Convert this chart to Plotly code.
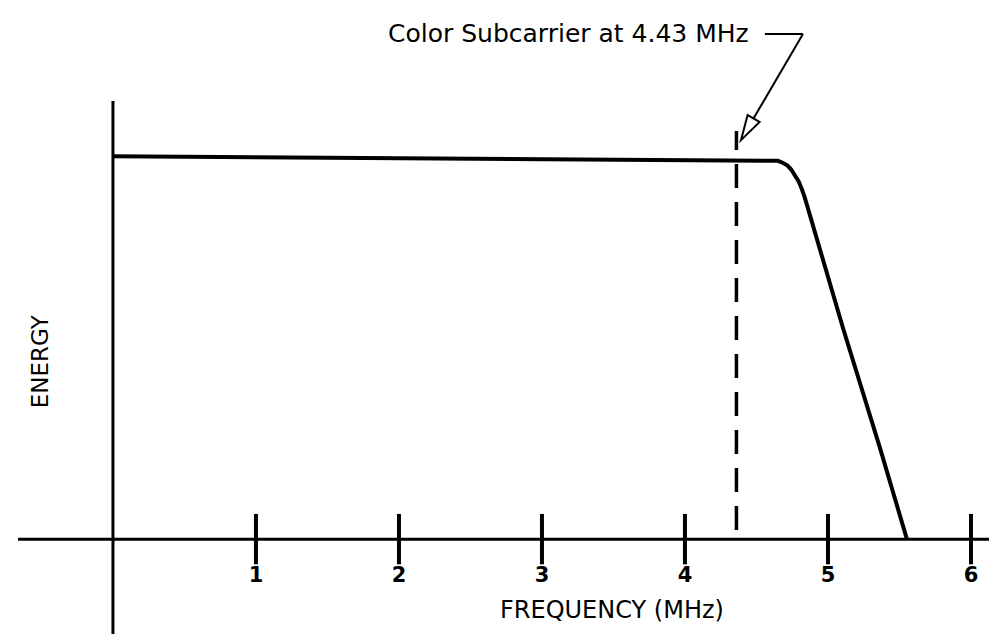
import plotly.graph_objects as go

# Data
freq_mhz = [0.0, 2.0, 4.36, 4.615, 4.650, 4.683, 4.715, 4.743, 4.770, 4.795, 4.818, 4.839,
            5.105, 5.364, 5.552]
energy = [1.005, 1.0, 0.995, 0.995, 0.993, 0.988, 0.981, 0.970, 0.956, 0.939, 0.918, 0.895,
          0.554, 0.239, 0.0]
tick_vals = [1, 2, 3, 4, 5, 6]
tick_text = ["1", "2", "3", "4", "5", "6"]
subcarrier_x = 4.36
subcarrier_label = "Color Subcarrier at 4.43 MHz"
x_title = "FREQUENCY (MHz)"
y_title = "ENERGY"

FONT = "DejaVu Sans"
INK = "black"

fig = go.Figure()

# spectrum curve
fig.add_trace(go.Scatter(x=freq_mhz, y=energy, mode="lines",
                         line=dict(color=INK, width=4), hoverinfo="skip",
                         showlegend=False))

# tick marks crossing the axis
fig.add_trace(go.Scatter(x=tick_vals, y=[0] * len(tick_vals), mode="markers",
                         marker=dict(symbol="line-ns", size=36,
                                     line=dict(color=INK, width=4)),
                         hoverinfo="skip", showlegend=False))

# tick labels
fig.add_trace(go.Scatter(x=tick_vals, y=[-0.100] * len(tick_vals), mode="text",
                         text=tick_text,
                         textfont=dict(family=FONT, size=21, color=INK, weight="bold"),
                         hoverinfo="skip", showlegend=False))

# axes lines
fig.add_shape(type="line", x0=-0.664, x1=6.30, y0=0, y1=0,
              line=dict(color=INK, width=3), layer="below")
fig.add_shape(type="line", x0=0, x1=0, y0=-0.249, y1=1.150,
              line=dict(color=INK, width=3), layer="below")

# dashed subcarrier marker
fig.add_shape(type="line", x0=subcarrier_x, x1=subcarrier_x, y0=0.024, y1=1.071,
              line=dict(color=INK, width=3.5, dash="24px,14px"))

# leader line of the callout
fig.add_shape(type="line", x0=4.559, x1=4.825, y0=1.3255, y1=1.3255,
              line=dict(color=INK, width=2))
fig.add_shape(type="line", x0=4.825, x1=4.479, y0=1.3255, y1=1.104,
              line=dict(color=INK, width=2))
# open arrowhead
fig.add_shape(type="path",
              path="M 4.392,1.0472 L 4.522,1.0948 L 4.438,1.1131 Z",
              line=dict(color=INK, width=2), fillcolor="white")

# callout text
fig.add_annotation(x=4.462, y=1.328, xref="x", yref="y", text=subcarrier_label,
                   showarrow=False, xanchor="right", yanchor="middle",
                   font=dict(family=FONT, size=25, color=INK))

# axis titles
fig.add_annotation(x=3.49, y=-0.187, xref="x", yref="y", text=x_title,
                   showarrow=False, xanchor="center", yanchor="middle",
                   font=dict(family=FONT, size=24, color=INK))
fig.add_annotation(x=-0.51, y=0.467, xref="x", yref="y", text=y_title,
                   showarrow=False, xanchor="center", yanchor="middle", textangle=-90,
                   font=dict(family=FONT, size=23, color=INK))

fig.update_layout(
    width=997, height=634,
    margin=dict(l=0, r=0, t=0, b=0),
    paper_bgcolor="white", plot_bgcolor="white",
    xaxis=dict(range=[-0.734, 6.238], visible=False, fixedrange=True),
    yaxis=dict(range=[-0.270, 1.394], visible=False, fixedrange=True),
    showlegend=False,
)

fig.write_html("out.html")
